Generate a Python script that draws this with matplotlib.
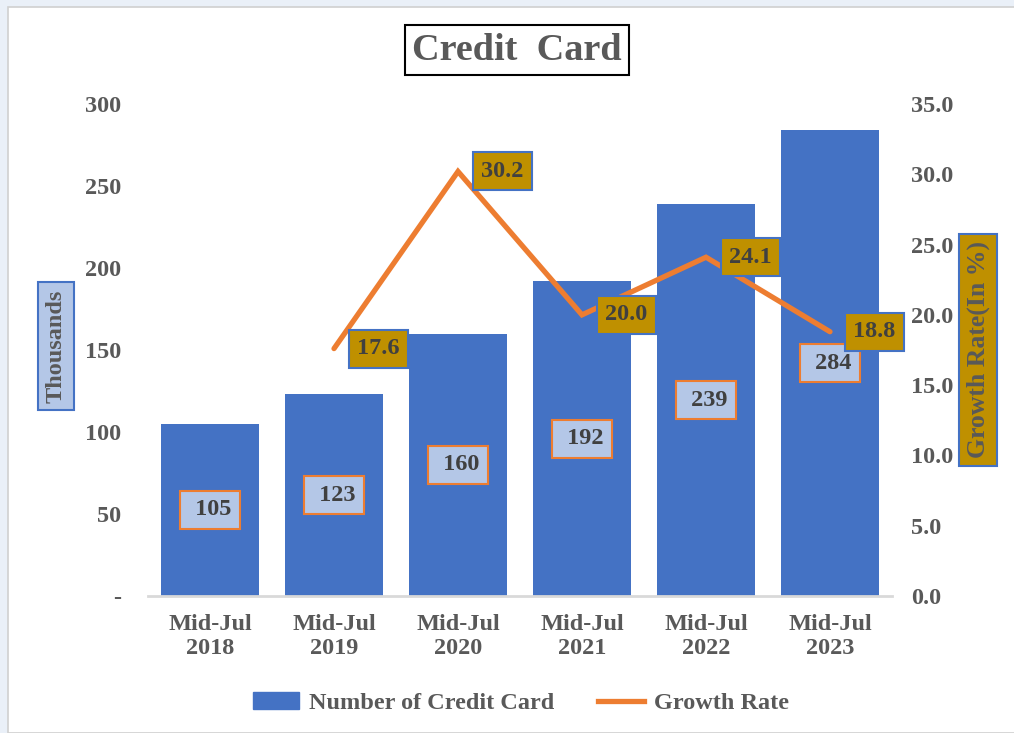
import matplotlib.pyplot as plt
from matplotlib.patches import Rectangle, Patch
from matplotlib.lines import Line2D

years = ['Mid-Jul\n2018', 'Mid-Jul\n2019', 'Mid-Jul\n2020',
         'Mid-Jul\n2021', 'Mid-Jul\n2022', 'Mid-Jul\n2023']
cards = [105, 123, 160, 192, 239, 284]
growth = [None, 17.6, 30.2, 20.0, 24.1, 18.8]
left_ticks = [0, 50, 100, 150, 200, 250, 300]
right_ticks = [0, 5, 10, 15, 20, 25, 30, 35]

BLUE = '#4472C4'
ORANGE = '#ED7D31'
GOLD = '#BF9000'
LIGHT = '#B4C7E7'
GREY = '#595959'
DARK = '#404040'
FS = 17.5

plt.rcParams['font.family'] = ['Liberation Serif', 'DejaVu Serif']
plt.rcParams['font.weight'] = 'bold'

fig = plt.figure(figsize=(10.14, 7.33), dpi=100, facecolor='#EAF0F8')
fig.patches.append(Rectangle((8 / 1014, 0), 1.0, 1 - 7 / 733, transform=fig.transFigure,
                             facecolor='white', edgecolor='#D0D0D0', lw=1.2, zorder=-10))

ax = fig.add_axes([148 / 1014, 137 / 733, 744 / 1014, 492 / 733])
ax.set_facecolor('none')
x = list(range(len(years)))
ax.bar(x, cards, width=0.79, color=BLUE, zorder=2)
ax.set_xlim(-0.5, 5.5)
ax.set_ylim(0, 300)
ax.set_yticks(left_ticks)
ax.set_yticklabels(['-'] + [str(t) for t in left_ticks[1:]])
ax.set_xticks(x)
ax.set_xticklabels(years, linespacing=1.2)
for s in ['top', 'left', 'right']:
    ax.spines[s].set_visible(False)
ax.spines['bottom'].set_color('#D9D9D9')
ax.spines['bottom'].set_linewidth(2)
ax.tick_params(axis='both', length=0, labelsize=FS, labelcolor=GREY)
ax.tick_params(axis='y', pad=19)
ax.tick_params(axis='x', pad=13)

for xi, v in zip(x, cards):
    ax.text(xi, v / 2, ' ' + str(v), ha='center', va='center', fontsize=FS, color=DARK,
            zorder=5, bbox=dict(boxstyle='square,pad=0.35', fc=LIGHT, ec=ORANGE, lw=1.5))

ax2 = ax.twinx()
gx = [xi for xi, g in zip(x, growth) if g is not None]
gy = [g for g in growth if g is not None]
ax2.plot(gx, gy, color=ORANGE, lw=3.8, solid_capstyle='round', solid_joinstyle='miter', zorder=3)
ax2.set_ylim(0, 35)
ax2.set_yticks(right_ticks)
ax2.set_yticklabels([f'{t:.1f}' for t in right_ticks])
for s in ['top', 'left', 'right', 'bottom']:
    ax2.spines[s].set_visible(False)
ax2.tick_params(axis='y', length=0, labelsize=FS, labelcolor=GREY, pad=14)

for xi, g in zip(gx, gy):
    ax2.annotate(f'{g:.1f}', (xi, g), xytext=(32, 0), textcoords='offset points',
                 ha='center', va='center', fontsize=FS, color=DARK, zorder=6,
                 bbox=dict(boxstyle='square,pad=0.35', fc=GOLD, ec=BLUE, lw=1.5))

fig.text(56 / 1014, 1 - 346 / 733, 'Thousands', rotation=90, ha='center', va='center',
         fontsize=FS, color=GREY,
         bbox=dict(boxstyle='square,pad=0.3', fc=LIGHT, ec=BLUE, lw=1.5))
fig.text(978 / 1014, 1 - 350 / 733, 'Growth Rate(In %)', rotation=90, ha='center', va='center',
         fontsize=18.5, color=GREY,
         bbox=dict(boxstyle='square,pad=0.3', fc=GOLD, ec=BLUE, lw=1.5))

fig.text(517 / 1014, 1 - 50 / 733, 'Credit  Card', ha='center', va='center',
         fontsize=27.5, color=GREY,
         bbox=dict(boxstyle='square,pad=0.2', fc='white', ec='black', lw=1.5))

handles = [Patch(facecolor=BLUE, edgecolor=BLUE),
           Line2D([0], [0], color=ORANGE, lw=3.8)]
fig.legend(handles, ['Number of Credit Card', 'Growth Rate'], loc='center',
           bbox_to_anchor=(521 / 1014, 30 / 733), ncol=2, frameon=False,
           fontsize=FS, labelcolor=GREY, handlelength=1.9, handletextpad=0.4,
           columnspacing=1.8)

fig.savefig('out.png', dpi=100, facecolor=fig.get_facecolor())
